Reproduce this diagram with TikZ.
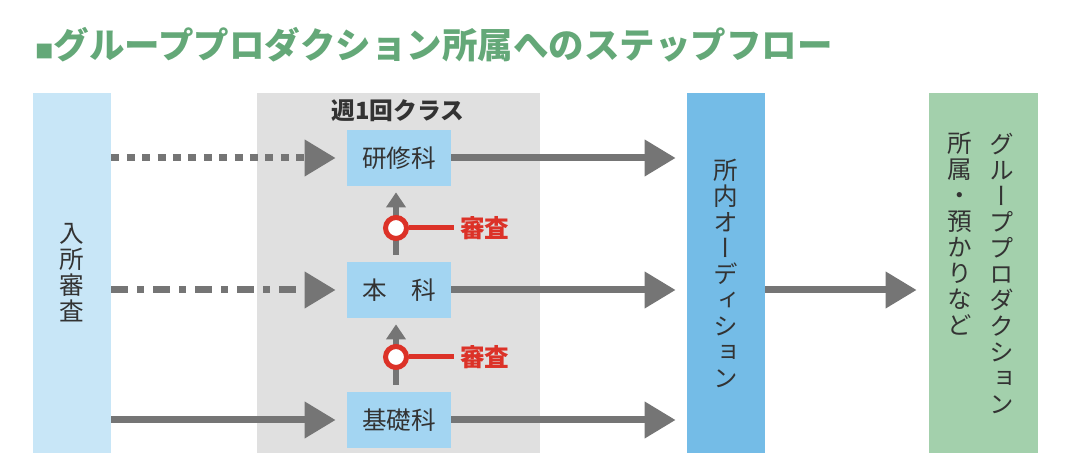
\documentclass[tikz,border=0pt]{standalone}
\usepackage{fontspec}
\usetikzlibrary{arrows.meta}
\setmainfont{Noto Sans CJK JP}
\newfontfamily\jpv[RawFeature=+vert]{Noto Sans CJK JP}
\definecolor{titlegr}{RGB}{100,168,120}
\definecolor{entrybl}{RGB}{200,230,247}
\definecolor{classgray}{RGB}{224,224,224}
\definecolor{coursebl}{RGB}{163,213,242}
\definecolor{auditbl}{RGB}{116,188,231}
\definecolor{finalgr}{RGB}{163,208,172}
\definecolor{arrgray}{RGB}{117,117,117}
\definecolor{revred}{RGB}{220,50,40}
\definecolor{txt}{RGB}{51,51,51}

\begin{document}
\begin{tikzpicture}[scale=1,
    panel/.style={inner sep=0pt,minimum height=7.2cm},
    vtext/.style={align=center,inner sep=0pt,text=txt,font=\jpv\fontsize{14}{14.8}\selectfont},
    course/.style={fill=coursebl,minimum width=2.08cm,minimum height=1.12cm,inner sep=0pt,text=txt,font=\fontsize{14}{16}\selectfont},
    flow/.style={draw=arrgray,line width=0.14cm,-{Triangle[length=0.62cm,width=0.7cm]},shorten >=0.22cm},
    upflow/.style={draw=arrgray,line width=0.12cm,-{Triangle[length=0.3cm,width=0.38cm]},shorten >=0.12cm,shorten <=0.14cm},
    check/.style={circle,draw=revred,fill=white,line width=0.1cm,minimum size=0.42cm,inner sep=0pt},
    review/.style={inner sep=0.12cm,text=revred,font=\bfseries\fontsize{14}{16}\selectfont}]

\useasboundingbox (0,0) rectangle (21.6,9.48);

\node[anchor=west,inner sep=0pt,text=titlegr,font=\bfseries\fontsize{20.2}{22}\selectfont] (title) at (0.7,8.58)
  {{\fontsize{10.5}{12}\selectfont ■}グループプロダクション所属へのステップフロー};

\node[panel,fill=entrybl,minimum width=1.56cm,vtext] (entry) at (1.44,4.02) {入\\所\\審\\査};
\node[panel,fill=classgray,minimum width=5.66cm] (weekly) at (7.97,4.02) {};
\node[panel,fill=auditbl,minimum width=1.56cm,vtext] (audit) at (14.52,4.02) {所\\内\\オ\\ー\\デ\\ィ\\シ\\ョ\\ン};
\node[panel,fill=finalgr,minimum width=2.18cm] (final) at (19.67,4.02) {};
\node[vtext,anchor=north] (final1) at ([xshift=0.37cm,yshift=-0.8cm]final.north) {グ\\ル\\ー\\プ\\プ\\ロ\\ダ\\ク\\シ\\ョ\\ン};
\node[vtext,anchor=north] (final2) at ([xshift=-0.47cm,yshift=-0.78cm]final.north) {所\\属\\・\\預\\か\\り\\な\\ど};

\node[text=txt,font=\bfseries\fontsize{13.5}{15}\selectfont] (weeklylabel) at (7.96,7.26) {週1回クラス};
\node[course] (kenshu) at (7.98,6.32) {研修科};
\node[course] (honka) at (7.98,3.68) {本　科};
\node[course] (kiso) at (7.98,1.08) {基礎科};

\draw[flow,dash pattern=on 0.16cm off 0.148cm] (entry.east |- kenshu) -- (kenshu.west);
\draw[flow,dash pattern=on 0.34cm off 0.18cm on 0.14cm off 0.18cm] (entry.east |- honka) -- (honka.west);
\draw[flow] (entry.east |- kiso) -- (kiso.west);

\draw[flow] (kenshu) -- (kenshu -| audit.west);
\draw[flow] (honka) -- (honka -| audit.west);
\draw[flow] (kiso) -- (kiso -| audit.west);
\draw[flow,shorten >=0.24cm] (audit.east |- honka) -- (final.west |- honka);

\draw[upflow] ([xshift=-0.6mm]honka.north) -- ([xshift=-0.6mm]kenshu.south);
\draw[upflow] ([xshift=-0.6mm]kiso.north) -- ([xshift=-0.6mm]honka.south);

\node[check] (chk1) at (7.92,4.92) {};
\node[check] (chk2) at (7.92,2.34) {};
\node[review,anchor=west] (rev1) at (9.08,4.92) {審査};
\node[review,anchor=west] (rev2) at (9.08,2.34) {審査};
\draw[revred,line width=0.1cm] (chk1) -- (rev1);
\draw[revred,line width=0.1cm] (chk2) -- (rev2);
\end{tikzpicture}
\end{document}
